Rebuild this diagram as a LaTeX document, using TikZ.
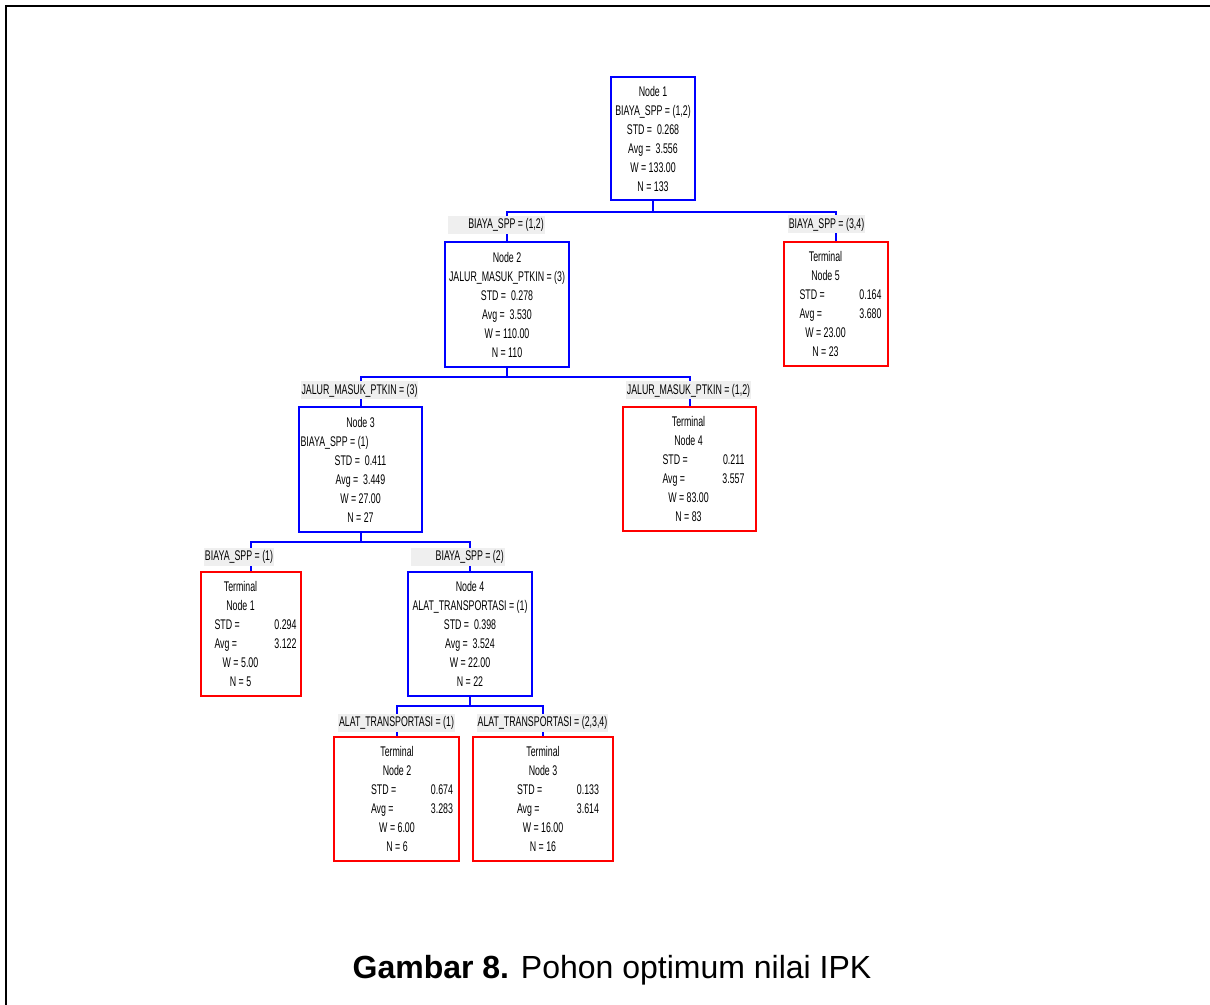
\documentclass[tikz,border=0pt]{standalone}
\usepackage{fontspec}
\usetikzlibrary{fit,calc}
\newfontfamily\narrowf[FakeStretch=0.63]{Liberation Sans}
\newfontfamily\capf{Liberation Sans}
\definecolor{cblue}{RGB}{0,0,255}
\definecolor{cred}{RGB}{255,0,0}
\definecolor{lgray}{RGB}{239,239,239}
\newcommand{\cl}[1]{\makebox[61.5pt][c]{\hspace*{-22.5pt}#1}}
\newcommand{\tr}[2]{\makebox[61.5pt]{#1\hfill#2}}
\tikzset{
  ibox/.style={draw=cblue, line width=1.65pt, inner sep=0pt, rectangle},
  tbox/.style={draw=cred, line width=1pt, inner sep=0pt, rectangle},
  txt/.style={inner sep=0pt, align=center, font=\narrowf\fontsize{10.5pt}{14.25pt}\selectfont},
  conn/.style={draw=cblue, line width=1.5pt},
  lab/.style={fill=lgray, inner xsep=0.75pt, inner ysep=0pt, minimum height=13.5pt, font=\narrowf\fontsize{10.5pt}{12pt}\selectfont}
}
\begin{document}
\begin{tikzpicture}[x=0.75pt,y=-0.75pt]
\useasboundingbox (0,0) rectangle (1210,1005);
\fill[white] (0,0) rectangle (1210,1005);
\draw[line width=1.4pt] (6,1005) -- (6,6) -- (1212,6);

% boxes
\node[ibox, fit={(611,77) (695,200)}] (n1) {};
\node[ibox, fit={(445,242) (569,367)}] (n2) {};
\node[ibox, fit={(299,407) (422,532)}] (n3) {};
\node[ibox, fit={(408,572) (532,696)}] (n4) {};
\node[tbox, fit={(201,572) (301,696)}] (t1) {};
\node[tbox, fit={(334,737) (459,861)}] (t2) {};
\node[tbox, fit={(473,737) (613,861)}] (t3) {};
\node[tbox, fit={(623,407) (756,531)}] (t4) {};
\node[tbox, fit={(784,242) (888,366)}] (t5) {};

% texts of inner nodes
\node[txt] (n1x) at (n1.center) {Node 1\\BIAYA\_SPP = (1,2)\\STD =\ \ 0.268\\Avg =\ \ 3.556\\W = 133.00\\N = 133};
\node[txt] (n2x) at (n2.center) {Node 2\\JALUR\_MASUK\_PTKIN = (3)\\STD =\ \ 0.278\\Avg =\ \ 3.530\\W = 110.00\\N = 110};
\node[txt] (n3x) at (n3.center) {Node 3\\\makebox[90pt][l]{BIAYA\_SPP = (1)}\\STD =\ \ 0.411\\Avg =\ \ 3.449\\W = 27.00\\N = 27};
\node[txt] (n4x) at (n4.center) {Node 4\\ALAT\_TRANSPORTASI = (1)\\STD =\ \ 0.398\\Avg =\ \ 3.524\\W = 22.00\\N = 22};

% texts of terminal nodes
\node[txt] (t1x) at ($(t1.center)+(4.5,0)$) {\cl{Terminal}\\\cl{Node 1}\\\tr{STD =}{0.294}\\\tr{Avg =}{3.122}\\\cl{W = 5.00}\\\cl{N = 5}};
\node[txt] (t2x) at ($(t2.center)+(15.5,0)$) {\cl{Terminal}\\\cl{Node 2}\\\tr{STD =}{0.674}\\\tr{Avg =}{3.283}\\\cl{W = 6.00}\\\cl{N = 6}};
\node[txt] (t3x) at ($(t3.center)+(15,0)$) {\cl{Terminal}\\\cl{Node 3}\\\tr{STD =}{0.133}\\\tr{Avg =}{3.614}\\\cl{W = 16.00}\\\cl{N = 16}};
\node[txt] (t4x) at ($(t4.center)+(14,0)$) {\cl{Terminal}\\\cl{Node 4}\\\tr{STD =}{0.211}\\\tr{Avg =}{3.557}\\\cl{W = 83.00}\\\cl{N = 83}};
\node[txt] (t5x) at ($(t5.center)+(4.5,0)$) {\cl{Terminal}\\\cl{Node 5}\\\tr{STD =}{0.164}\\\tr{Avg =}{3.680}\\\cl{W = 23.00}\\\cl{N = 23}};

% connectors
\draw[conn] (n1.south) -- ++(0,11) coordinate (b1) -| (n2.north);
\draw[conn] (b1) -| (t5.north);
\draw[conn] (n2.south) -- ++(0,9) coordinate (b2) -| (n3.north);
\draw[conn] (b2) -| (t4.north);
\draw[conn] (n3.south) -- ++(0,9) coordinate (b3) -| (t1.north);
\draw[conn] (b3) -| (n4.north);
\draw[conn] (n4.south) -- ++(0,9) coordinate (b4) -| (t2.north);
\draw[conn] (b4) -| (t3.north);

% split labels
\node[lab, anchor=east] (l1a) at (545,225) {\makebox[71.25pt][r]{BIAYA\_SPP = (1,2)}};
\node[lab] (l1b) at (826.5,224.5) {BIAYA\_SPP = (3,4)};
\node[lab] (l2a) at (359.5,390.5) {JALUR\_MASUK\_PTKIN = (3)};
\node[lab] (l2b) at (688.5,390.5) {JALUR\_MASUK\_PTKIN = (1,2)};
\node[lab] (l3a) at (239,556.5) {BIAYA\_SPP = (1)};
\node[lab, anchor=east] (l3b) at (505,556.5) {\makebox[69pt][r]{BIAYA\_SPP = (2)}};
\node[lab] (l4a) at (396.5,722.5) {ALAT\_TRANSPORTASI = (1)};
\node[lab] (l4b) at (542.5,722.5) {ALAT\_TRANSPORTASI = (2,3,4)};

% caption
\node[anchor=base, inner sep=0pt, font=\capf\fontsize{24pt}{28pt}\selectfont] (cap) at (612,978) {\textbf{Gambar 8.} Pohon optimum nilai IPK};
\end{tikzpicture}
\end{document}
